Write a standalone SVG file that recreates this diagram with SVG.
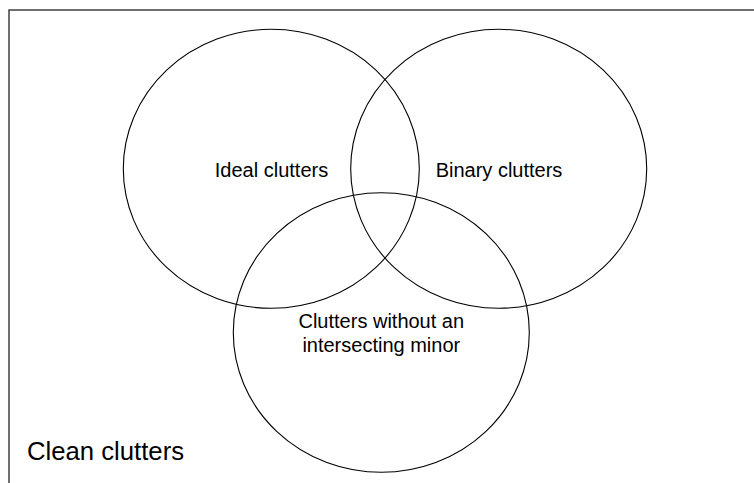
<svg xmlns="http://www.w3.org/2000/svg" width="754" height="483" viewBox="0 0 754 483">
<style>
.set{fill:none;stroke:#000;stroke-width:1.1}
.lbl{font-family:"Liberation Sans",Arial,sans-serif;font-size:20px;fill:#000;text-anchor:middle}
</style>
<rect x="0" y="0" width="754" height="483" fill="#fff"/>
<g id="clean-clutters">
<rect x="9" y="10" width="760" height="490" fill="none" stroke="#333" stroke-width="1.4"/>
<text x="27" y="460" style="font-family:'Liberation Sans',Arial,sans-serif;font-size:25.7px;fill:#000">Clean clutters</text>
</g>
<g id="ideal-clutters">
<ellipse class="set" cx="271.3" cy="168.8" rx="148" ry="139.5"/>
<text class="lbl" x="271.5" y="176.5">Ideal clutters</text>
</g>
<g id="binary-clutters">
<ellipse class="set" cx="498.7" cy="168.8" rx="148" ry="139.5"/>
<text class="lbl" x="499" y="176.5">Binary clutters</text>
</g>
<g id="no-intersecting-minor">
<ellipse class="set" cx="381.3" cy="332.5" rx="148" ry="139.8"/>
<text class="lbl" x="381.3" y="328.3">Clutters without an</text>
<text class="lbl" x="381.3" y="351.7">intersecting minor</text>
</g>
<g id="connectors"></g>
</svg>
